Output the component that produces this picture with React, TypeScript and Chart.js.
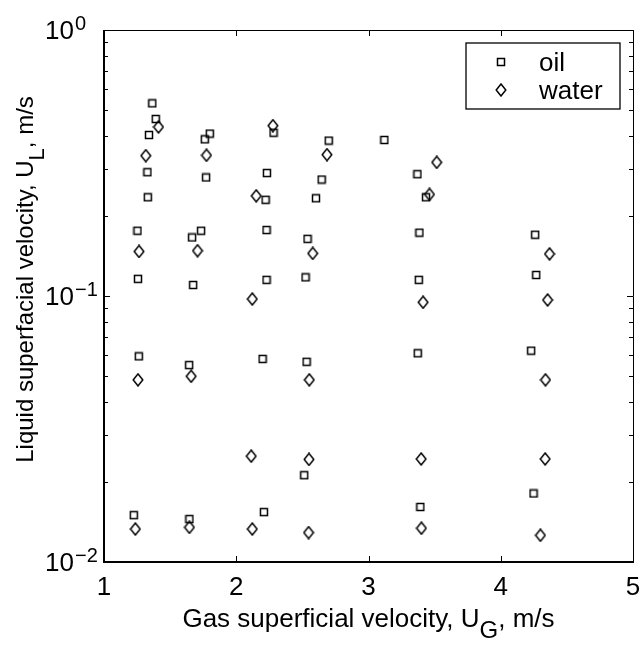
import React, { useEffect, useRef } from "react";
import { Chart, registerables } from "chart.js";

Chart.register(...registerables);

// ---- Data ----
const oilUG = [
  1.365, 1.391, 1.34, 1.328, 1.331, 1.253, 1.257, 1.263, 1.225,
  1.8, 1.762, 1.772, 1.734, 1.666, 1.674, 1.644, 1.646,
  2.282, 2.232, 2.222, 2.229, 2.229, 2.199, 2.209,
  2.699, 2.646, 2.603, 2.539, 2.524, 2.532, 2.514,
  3.12, 3.37, 3.435, 3.385, 3.38, 3.372, 3.392,
  4.26, 4.268, 4.23, 4.248,
];
const oilUL = [
  0.53, 0.463, 0.403, 0.292, 0.235, 0.176, 0.116, 0.0593, 0.015,
  0.408, 0.388, 0.279, 0.176, 0.166, 0.11, 0.055, 0.0145,
  0.411, 0.29, 0.23, 0.177, 0.115, 0.058, 0.0154,
  0.384, 0.274, 0.233, 0.164, 0.1175, 0.0566, 0.0212,
  0.386, 0.287, 0.235, 0.173, 0.115, 0.0609, 0.0161,
  0.17, 0.12, 0.0623, 0.0181,
];
const waterUG = [
  1.412, 1.316, 1.265, 1.257, 1.237,
  1.775, 1.707, 1.659, 1.646,
  2.277, 2.151, 2.121, 2.113, 2.121,
  2.686, 2.578, 2.552, 2.55, 2.547,
  3.516, 3.461, 3.413, 3.398, 3.4,
  4.369, 4.354, 4.338, 4.336, 4.3,
];
const waterUL = [
  0.432, 0.337, 0.147, 0.0484, 0.0133,
  0.338, 0.148, 0.0499, 0.0135,
  0.437, 0.238, 0.0974, 0.025, 0.0133,
  0.34, 0.1446, 0.0484, 0.0243, 0.0129,
  0.318, 0.241, 0.0947, 0.0244, 0.0134,
  0.144, 0.0966, 0.0484, 0.0244, 0.0126,
];
const seriesLabels = ["oil", "water"];
const xTickValues = [1, 2, 3, 4, 5];
const yTickExponents = [-2, -1, 0];
const yMinorMultipliers = [2, 3, 4, 5, 6, 7, 8, 9];
const xTitleParts = ["Gas superficial velocity, U", "G", ", m/s"];
const yTitleParts = ["Liquid superfacial velocity, U", "L", ", m/s"];

const FONT = '"Liberation Sans", Arial, Helvetica, sans-serif';

function makeSquare(): HTMLCanvasElement {
  const c = document.createElement("canvas");
  c.width = 10;
  c.height = 10;
  const g = c.getContext("2d")!;
  g.strokeStyle = "#000";
  g.lineWidth = 1.5;
  g.strokeRect(1.5, 1.5, 7, 7);
  return c;
}

function makeDiamond(): HTMLCanvasElement {
  const c = document.createElement("canvas");
  c.width = 12;
  c.height = 14;
  const g = c.getContext("2d")!;
  g.strokeStyle = "#000";
  g.lineWidth = 1.5;
  g.lineJoin = "miter";
  g.beginPath();
  g.moveTo(6, 1);
  g.lineTo(10.8, 7);
  g.lineTo(6, 13);
  g.lineTo(1.2, 7);
  g.closePath();
  g.stroke();
  return c;
}

function drawParts(
  ctx: CanvasRenderingContext2D,
  parts: string[],
  mainSize: number,
  subSize: number,
  subShift: number,
  cx: number
) {
  ctx.font = `${mainSize}px ${FONT}`;
  const w0 = ctx.measureText(parts[0]).width;
  const w2 = ctx.measureText(parts[2]).width;
  ctx.font = `${subSize}px ${FONT}`;
  const w1 = ctx.measureText(parts[1]).width;
  let x = cx - (w0 + w1 + w2) / 2;
  ctx.textAlign = "left";
  ctx.textBaseline = "alphabetic";
  ctx.font = `${mainSize}px ${FONT}`;
  ctx.fillText(parts[0], x, 0);
  x += w0;
  ctx.font = `${subSize}px ${FONT}`;
  ctx.fillText(parts[1], x, subShift);
  x += w1;
  ctx.font = `${mainSize}px ${FONT}`;
  ctx.fillText(parts[2], x, 0);
}

const matlabAxes = {
  id: "matlabAxes",
  afterDraw(chart: any) {
    const ctx: CanvasRenderingContext2D = chart.ctx;
    const { left, right, top, bottom } = chart.chartArea;
    const xs = chart.scales.x;
    const ys = chart.scales.y;
    ctx.save();
    ctx.strokeStyle = "#000";
    ctx.fillStyle = "#000";

    // box
    ctx.lineWidth = 1;
    ctx.beginPath();
    ctx.moveTo(left, top + 0.5);
    ctx.lineTo(right + 0.5, top + 0.5);
    ctx.lineTo(right + 0.5, bottom);
    ctx.stroke();
    ctx.lineWidth = 2;
    ctx.beginPath();
    ctx.moveTo(left, top);
    ctx.lineTo(left, bottom);
    ctx.lineTo(right + 1, bottom);
    ctx.stroke();

    // x ticks (inward, bottom & top)
    ctx.lineWidth = 1;
    for (const v of xTickValues) {
      const px = Math.round(xs.getPixelForValue(v)) + 0.5;
      ctx.beginPath();
      ctx.moveTo(px, bottom);
      ctx.lineTo(px, bottom - 6);
      ctx.moveTo(px, top);
      ctx.lineTo(px, top + 6);
      ctx.stroke();
    }
    // y ticks
    for (const e of yTickExponents) {
      const py = Math.round(ys.getPixelForValue(Math.pow(10, e))) + 0.5;
      ctx.beginPath();
      ctx.moveTo(left, py);
      ctx.lineTo(left + 6, py);
      ctx.moveTo(right, py);
      ctx.lineTo(right - 6, py);
      ctx.stroke();
      if (e < 0) {
        for (const m of yMinorMultipliers) {
          const pm = Math.round(ys.getPixelForValue(m * Math.pow(10, e))) + 0.5;
          ctx.beginPath();
          ctx.moveTo(left, pm);
          ctx.lineTo(left + 4, pm);
          ctx.moveTo(right, pm);
          ctx.lineTo(right - 4, pm);
          ctx.stroke();
        }
      }
    }

    // x tick labels
    ctx.font = `26px ${FONT}`;
    ctx.textAlign = "center";
    ctx.textBaseline = "alphabetic";
    for (const v of xTickValues) {
      ctx.fillText(String(v), xs.getPixelForValue(v), 595);
    }
    // y tick labels with superscripts
    for (const e of yTickExponents) {
      const py = ys.getPixelForValue(Math.pow(10, e));
      ctx.font = `26px ${FONT}`;
      ctx.textAlign = "right";
      ctx.fillText("10", 74, py + 9.3);
      ctx.font = `20px ${FONT}`;
      ctx.textAlign = "left";
      const sup = e < 0 ? "\u2212" + String(-e) : String(e);
      ctx.fillText(sup, 75, py);
    }

    // x title
    ctx.save();
    ctx.translate(0, 627);
    drawParts(ctx, xTitleParts, 26, 24, 11, (left + right) / 2);
    ctx.restore();

    // y title
    ctx.save();
    ctx.translate(33, 279.5);
    ctx.rotate(-Math.PI / 2);
    drawParts(ctx, yTitleParts, 24, 22, 11, 0);
    ctx.restore();

    // legend
    ctx.lineWidth = 1.3;
    ctx.strokeRect(466, 43, 154, 66);
    const styles = chart.data.datasets.map((d: any) => d.pointStyle);
    const rowY = [62, 90];
    ctx.font = `26px ${FONT}`;
    ctx.textAlign = "left";
    ctx.textBaseline = "alphabetic";
    seriesLabels.forEach((lab, i) => {
      const img = styles[i] as HTMLCanvasElement;
      ctx.drawImage(img, 501 - img.width / 2, rowY[i] - img.height / 2);
      ctx.fillText(lab, 539, rowY[i] + 8.6);
    });
    ctx.restore();
  },
};

export default function App() {
  const ref = useRef<HTMLCanvasElement | null>(null);
  useEffect(() => {
    if (!ref.current) return;
    const square = makeSquare();
    const diamond = makeDiamond();
    const chart = new Chart(ref.current, {
      type: "scatter",
      data: {
        datasets: [
          {
            label: seriesLabels[0],
            data: oilUG.map((x, i) => ({ x, y: oilUL[i] })),
            pointStyle: square as any,
            pointRadius: 5,
            showLine: false,
          },
          {
            label: seriesLabels[1],
            data: waterUG.map((x, i) => ({ x, y: waterUL[i] })),
            pointStyle: diamond as any,
            pointRadius: 5,
            showLine: false,
          },
        ],
      },
      options: {
        responsive: false,
        animation: false,
        devicePixelRatio: 1,
        layout: { padding: { left: 104, top: 30, right: 10, bottom: 84 } },
        plugins: { legend: { display: false }, tooltip: { enabled: false } },
        scales: {
          x: { type: "linear", min: 1, max: 5, display: false },
          y: { type: "logarithmic", min: 0.01, max: 1, display: false },
        },
      },
      plugins: [matlabAxes],
    });
    return () => chart.destroy();
  }, []);
  return (
    <div style={{ position: "absolute", left: 0, top: 0, width: 643, height: 646, background: "#fff" }}>
      <canvas ref={ref} width={643} height={646} style={{ display: "block" }} />
    </div>
  );
}
